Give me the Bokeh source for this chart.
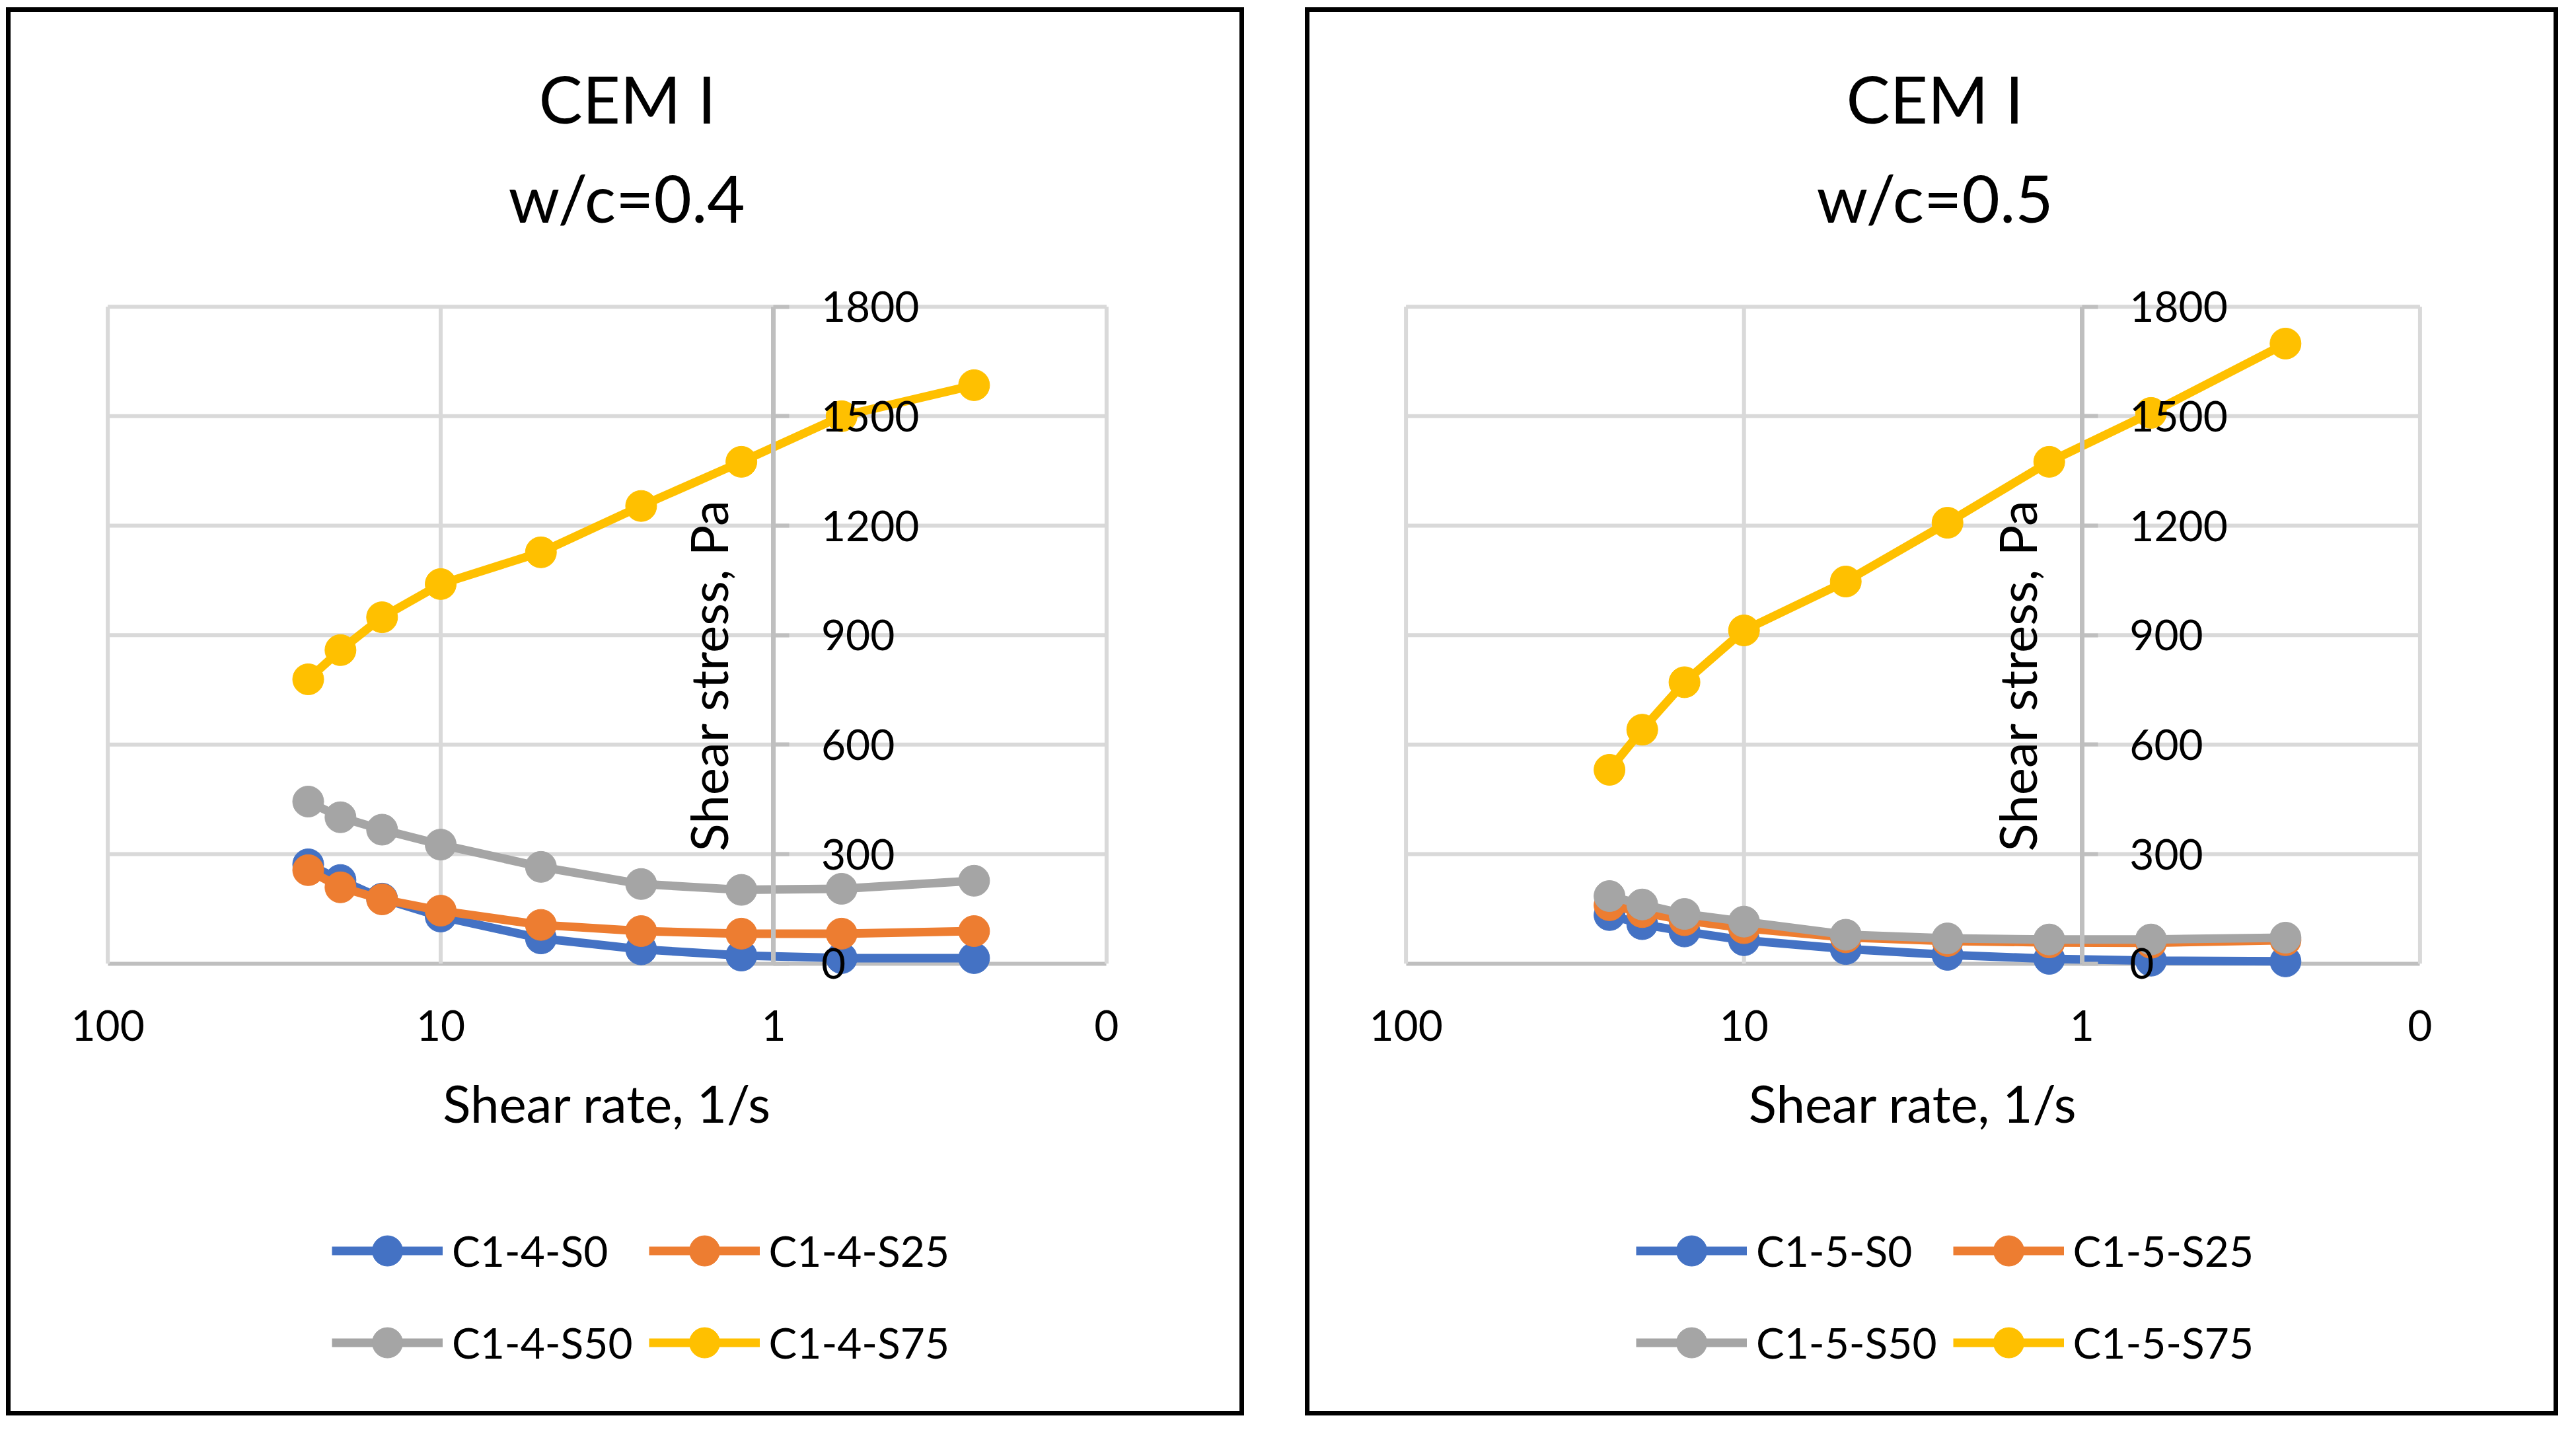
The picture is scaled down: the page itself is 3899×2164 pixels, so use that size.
from bokeh.plotting import figure
from bokeh.layouts import row
from bokeh.models import (Range1d, LinearAxis, LogAxis, FixedTicker, Legend,
                          LegendItem, Title)
from bokeh.embed import file_html
from bokeh.resources import INLINE

# ---------------- data ----------------
shear_rate = [25, 20, 15, 10, 5, 2.5, 1.25, 0.625, 0.25]

c14_s0 = [272, 229, 178, 129, 69, 39, 22, 15, 15]
c14_s25 = [256, 209, 176, 145, 106, 89, 82, 82, 89]
c14_s50 = [444, 401, 367, 326, 265, 218, 202, 205, 227]
c14_s75 = [779, 859, 949, 1040, 1127, 1254, 1375, 1500, 1585]

c15_s0 = [133, 108, 88, 64, 40, 24, 13, 8, 6]
c15_s25 = [160, 141, 119, 97, 72, 62, 58, 57, 64]
c15_s50 = [185, 162, 136, 115, 79, 69, 66, 66, 71]
c15_s75 = [531, 641, 771, 913, 1047, 1208, 1375, 1509, 1699]

names_04 = ["C1-4-S0", "C1-4-S25", "C1-4-S50", "C1-4-S75"]
names_05 = ["C1-5-S0", "C1-5-S25", "C1-5-S50", "C1-5-S75"]

x_ticks = [100, 10, 1, 0.1]
x_tick_labels = ["100", "10", "1", "0"]
y_ticks = [0, 300, 600, 900, 1200, 1500, 1800]
y_axis_crosses_at = 1

colors = ["#4472C4", "#ED7D31", "#A5A5A5", "#FFC000"]

FONT = "Lato"
GRID = "#D9D9D9"
AXIS = "#BFBFBF"

# ---------------- layout (pixels inside each bordered panel) ----------------
CANVAS_H = 2117          # inner height of a panel
ZERO_PX = 1431           # screen row of y = 0
TOP_PX = 445             # screen row of y = 1800
FRAME_TOP = 363          # frame reaches above the plot area (titles sit above)
FRAME_BOT = 2087         # ... and down to the legend, so nothing is clipped
PPU = (ZERO_PX - TOP_PX) / (y_ticks[-1] - y_ticks[0])
Y_HI = y_ticks[-1] + (TOP_PX - FRAME_TOP) / PPU
Y_LO = y_ticks[0] - (FRAME_BOT - ZERO_PX) / PPU
XPAD = 70                # frame reaches this far beyond 100 and 0.1


def make_panel(t1, t2, names, series, width, margin, left_px, right_px,
               leg_x, off1, off2):
    inner_w = width - 14
    plot_w = inner_w - left_px - right_px
    decades = 3.0
    pad_dec = XPAD * decades / plot_w
    x_lo = x_ticks[0] * 10 ** pad_dec
    x_hi = x_ticks[-1] / 10 ** pad_dec

    p = figure(width=width, height=CANVAS_H + 14, x_axis_type="log",
               x_range=Range1d(x_lo, x_hi), y_range=Range1d(Y_LO, Y_HI),
               x_axis_location=None, y_axis_location=None,
               output_backend="svg", toolbar_location=None, title=t1,
               min_border_left=left_px - XPAD,
               min_border_right=right_px - XPAD,
               min_border_top=FRAME_TOP,
               min_border_bottom=CANVAS_H - FRAME_BOT)
    p.margin = margin
    p.styles = {"border": "7px solid black"}
    p.outline_line_color = None
    p.background_fill_color = "white"
    p.border_fill_color = "white"
    p.xgrid.visible = False
    p.ygrid.visible = False

    # titles (main title on top, subtitle next to the frame)
    p.title.text_font = FONT
    p.title.text_font_size = "99px"
    p.title.text_font_style = "normal"
    p.title.align = "left"
    p.title.offset = off1 + XPAD
    p.title.text_color = "black"
    p.title.standoff = 10
    p.add_layout(Title(text=t2, text_font=FONT, text_font_size="99px",
                       text_font_style="normal", align="left",
                       offset=off2 + XPAD,
                       text_color="black", standoff=48), "above")

    # gridlines limited to the plot area
    hy = y_ticks[1:]
    p.segment(x0=[x_ticks[0]] * len(hy), y0=hy, x1=[x_ticks[-1]] * len(hy),
              y1=hy, line_color=GRID, line_width=6)
    vx = [t for t in x_ticks if t != y_axis_crosses_at]
    p.segment(x0=vx, y0=[y_ticks[0]] * len(vx), x1=vx,
              y1=[y_ticks[-1]] * len(vx), line_color=GRID, line_width=6)

    # x axis along y = 0
    xa = LogAxis(fixed_location=y_ticks[0], ticker=FixedTicker(ticks=x_ticks),
                 bounds=(x_ticks[-1], x_ticks[0]),
                 major_label_overrides=dict(zip(x_ticks, x_tick_labels)),
                 minor_tick_line_color=None, major_tick_line_color=None,
                 major_tick_out=0, major_tick_in=0,
                 axis_line_color=AXIS, axis_line_width=6,
                 major_label_text_font=FONT, major_label_text_font_size="64px",
                 major_label_text_color="black", major_label_standoff=71,
                 axis_label="Shear rate, 1/s", axis_label_text_font=FONT,
                 axis_label_text_font_size="78px",
                 axis_label_text_font_style="normal",
                 axis_label_text_color="black", axis_label_standoff=43)
    xa.level = "underlay"
    p.add_layout(xa, "below")

    # y axis crossing at x = 1: line, tick marks and labels
    ya = LinearAxis(fixed_location=y_axis_crosses_at,
                    ticker=FixedTicker(ticks=y_ticks),
                    bounds=(y_ticks[0], y_ticks[-1]),
                    axis_line_color=AXIS, axis_line_width=7,
                    major_tick_line_color=AXIS, major_tick_line_width=6,
                    major_tick_out=24, major_tick_in=0,
                    minor_tick_line_color=None,
                    major_label_text_font=FONT,
                    major_label_text_font_size="64px",
                    major_label_text_color="black",
                    major_label_standoff=48)
    p.add_layout(ya, "right")
    # y axis title (left of the crossing axis)
    yl = LinearAxis(fixed_location=y_axis_crosses_at,
                    ticker=FixedTicker(ticks=[]), bounds=(0, 1580),
                    axis_line_color=None, major_tick_line_color=None,
                    minor_tick_line_color=None, major_tick_out=0,
                    major_label_text_font_size="0px",
                    axis_label="Shear stress, Pa", axis_label_text_font=FONT,
                    axis_label_text_font_size="78px",
                    axis_label_text_font_style="normal",
                    axis_label_text_color="black", axis_label_standoff=52)
    p.add_layout(yl, "left")

    items = []
    for name, vals, col in zip(names, series, colors):
        ln = p.line(shear_rate, vals, line_color=col, line_width=13)
        sc = p.scatter(shear_rate, vals, size=47, fill_color=col,
                       line_color=col)
        items.append(LegendItem(label=name, renderers=[ln, sc]))

    leg = Legend(items=items, ncols=2, orientation="horizontal",
                 location=(leg_x + XPAD, 30),
                 label_text_font=FONT, label_text_font_size="64px",
                 label_text_color="black", glyph_width=168, glyph_height=115,
                 label_standoff=14, spacing=24, padding=10, margin=0,
                 border_line_color=None, background_fill_alpha=0)
    p.add_layout(leg, "center")
    return p


p1 = make_panel("CEM I", "w/c=0.4", names_04,
                [c14_s0, c14_s25, c14_s50, c14_s75], 1874, (11, 0, 0, 9),
                146, 215, 340, 653, 607)
p2 = make_panel("CEM I", "w/c=0.5", names_05,
                [c15_s0, c15_s25, c15_s50, c15_s75], 1897, (11, 0, 0, 92),
                145, 216, 349, 667, 622)

layout = row(p1, p2)
open("out.html", "w").write(file_html(layout, INLINE))
